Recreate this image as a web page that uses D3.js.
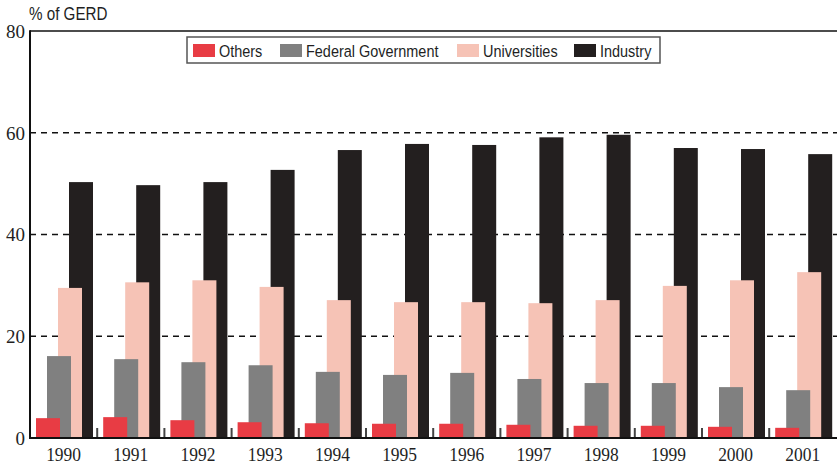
<!DOCTYPE html>
<html>
<head>
<meta charset="utf-8">
<script src="https://cdn.jsdelivr.net/npm/d3@7"></script>
<style>
	body { margin: 0; background: #fff; }
	svg { display: block; }
</style>
</head>
<body>
<div id="chart"></div>
<script>
var years = ["1990", "1991", "1992", "1993", "1994", "1995", "1996", "1997", "1998", "1999", "2000", "2001"];
var seriesNames = ["Others", "Federal Government", "Universities", "Industry"];
var others = [3.9, 4.1, 3.5, 3.1, 2.9, 2.8, 2.8, 2.6, 2.4, 2.4, 2.2, 2.0];
var federal = [16.1, 15.5, 14.9, 14.3, 13.0, 12.4, 12.8, 11.6, 10.8, 10.8, 10.0, 9.4];
var universities = [29.5, 30.6, 31.0, 29.7, 27.1, 26.7, 26.7, 26.5, 27.1, 29.9, 31.0, 32.6];
var industry = [50.3, 49.7, 50.3, 52.7, 56.6, 57.8, 57.6, 59.1, 59.6, 57.0, 56.8, 55.8];
var yTicks = [0, 20, 40, 60, 80];
var colors = ["#e83c44", "#808080", "#f6c3b6", "#231f1f"];

var width = 837,
	height = 464,
	plotLeft = 30,
	plotRight = 836.4,
	plotTop = 31,
	plotBottom = 438,
	narrow = 0.85;

var seriesValues = [others, federal, universities, industry];

var svg = d3.select("#chart").append("svg")
	.attr("width", width)
	.attr("height", height);

var x = d3.scaleBand().domain(years).range([plotLeft, plotRight]).padding(0);
var inner = d3.scalePoint().domain(seriesNames).range([6, 39]);
var barW = 24;
var y = d3.scaleLinear().domain([0, 80]).range([plotBottom, plotTop]);

// dashed grid, behind the bars
svg.append("g").selectAll("line")
	.data([20, 40, 60])
	.enter().append("line")
	.attr("x1", plotLeft).attr("x2", width)
	.attr("y1", function(d) { return y(d); })
	.attr("y2", function(d) { return y(d); })
	.attr("stroke", "#111")
	.attr("stroke-width", 1.5)
	.attr("stroke-dasharray", "6,5");

// back to front: Industry, Universities, Federal, Others
[3, 2, 1, 0].forEach(function(si) {
	svg.append("g")
		.attr("fill", colors[si])
		.selectAll("rect")
		.data(seriesValues[si])
		.enter().append("rect")
		.attr("x", function(d, i) { return x(years[i]) + inner(seriesNames[si]); })
		.attr("width", barW)
		.attr("y", function(d) { return y(d); })
		.attr("height", function(d) { return y(0) - y(d); });
});

// small ticks between years
svg.append("g").selectAll("line")
	.data(years.slice(1))
	.enter().append("line")
	.attr("x1", function(d) { return x(d); })
	.attr("x2", function(d) { return x(d); })
	.attr("y1", plotBottom - 10).attr("y2", plotBottom)
	.attr("stroke", "#444")
	.attr("stroke-width", 2);

// frame
svg.append("line").attr("x1", plotLeft).attr("x2", width).attr("y1", y(80)).attr("y2", y(80))
	.attr("stroke", "#111").attr("stroke-width", 1.5);
svg.append("line").attr("x1", plotLeft).attr("x2", plotLeft).attr("y1", y(80) - 0.75).attr("y2", plotBottom + 1)
	.attr("stroke", "#111").attr("stroke-width", 2);
svg.append("line").attr("x1", plotLeft).attr("x2", width).attr("y1", plotBottom).attr("y2", plotBottom)
	.attr("stroke", "#111").attr("stroke-width", 2);

// y tick labels
svg.append("g").selectAll("text")
	.data(yTicks)
	.enter().append("text")
	.attr("x", 25)
	.attr("y", function(d) { return y(d); })
	.attr("dy", "0.36em")
	.attr("text-anchor", "end")
	.attr("font-family", "'Liberation Serif', 'DejaVu Serif', serif")
	.attr("font-size", 19)
	.attr("fill", "#231f1f")
	.text(function(d) { return d; });

// x labels
svg.append("g").selectAll("text")
	.data(years)
	.enter().append("text")
	.attr("transform", function(d) { return "translate(" + (x(d) + x.bandwidth() / 2) + ",461) scale(0.92,1)"; })
	.attr("text-anchor", "middle")
	.attr("font-family", "'Liberation Serif', 'DejaVu Serif', serif")
	.attr("font-size", 19)
	.attr("fill", "#231f1f")
	.text(function(d) { return d; });

// axis title
svg.append("text")
	.attr("transform", "translate(29,20) scale(0.8,1)")
	.attr("font-family", "'Liberation Sans', Arial, sans-serif")
	.attr("font-size", 19)
	.attr("fill", "#231f1f")
	.text("% of GERD");

// legend
var legend = svg.append("g");
legend.append("rect")
	.attr("x", 187).attr("y", 37)
	.attr("width", 473).attr("height", 26)
	.attr("fill", "#fff")
	.attr("stroke", "#555")
	.attr("stroke-width", 1.5);

var legendX = [193, 280, 457, 574];
var item = legend.selectAll("g.item")
	.data(seriesNames)
	.enter().append("g")
	.attr("class", "item")
	.attr("transform", function(d, i) { return "translate(" + legendX[i] + ",44)"; });

item.append("rect")
	.attr("width", 22).attr("height", 13)
	.attr("fill", function(d, i) { return colors[i]; });

item.append("text")
	.attr("transform", "translate(26,13) scale(" + narrow + ",1)")
	.attr("font-family", "'Liberation Sans', Arial, sans-serif")
	.attr("font-size", 17)
	.attr("fill", "#231f1f")
	.text(function(d) { return d; });
</script>
</body>
</html>
